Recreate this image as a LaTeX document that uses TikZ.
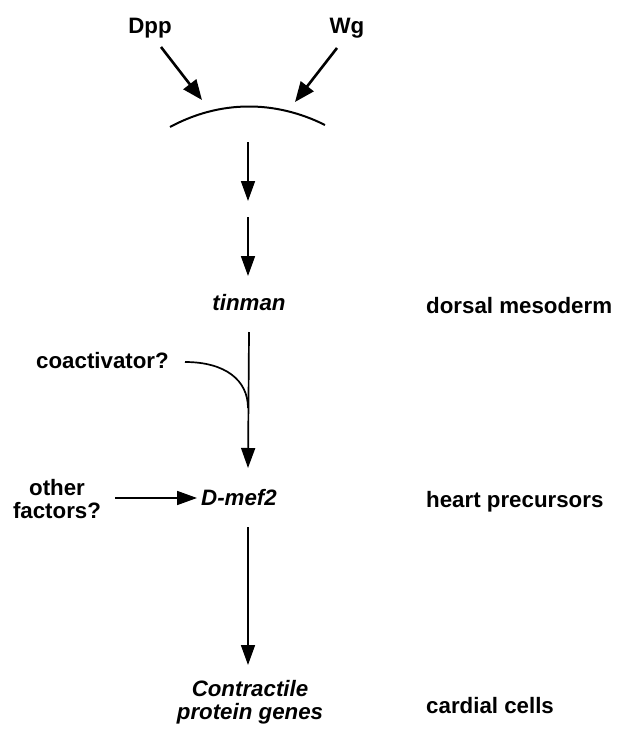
\documentclass[tikz,border=0pt]{standalone}
\usepackage{fontspec}
\setmainfont{Liberation Sans}
\usetikzlibrary{arrows.meta}
\tikzset{
  lbl/.style={inner sep=0pt, font=\fontsize{22.3}{23.5}\selectfont\bfseries},
  gene/.style={inner sep=0pt, font=\fontsize{22.3}{23.5}\selectfont\bfseries\itshape},
  flow/.style={line width=1.7pt, -{Triangle[length=20pt,width=14pt]}},
  sig/.style={line width=2.6pt, -{Triangle[length=20pt,width=16pt]}},
  capline/.style={line width=2pt}
}
\begin{document}
\begin{tikzpicture}[x=1pt,y=-1pt]
\useasboundingbox (0,0) rectangle (624,731);
% nodes
\node[lbl, anchor=base] (dpp) at (150,33) {Dpp};
\node[lbl, anchor=base] (wg) at (347,33) {Wg};
\node[gene, anchor=base] (tin) at (249,310) {tinman};
\node[lbl, anchor=base west] (dm) at (426,313) {dorsal mesoderm};
\node[lbl, anchor=base east] (coa) at (169,368) {coactivator?};
\node[lbl, align=center] (oth) at (57,499) {other\\factors?};
\node[gene, anchor=base] (mef) at (239,505) {D-mef2};
\node[lbl, anchor=base west] (hp) at (426,507) {heart precursors};
\node[gene, align=center] (cpg) at (250,702) {Contractile\\protein genes};
\node[lbl, anchor=base west] (cc) at (426,713) {cardial cells};
% coordinates
\coordinate (dppS) at (161,47);
\coordinate (dppE) at (202,100);
\coordinate (wgS) at (337,48);
\coordinate (wgE) at (295,102);
\coordinate (capL) at (170,127);
\coordinate (capR) at (325,125);
\coordinate (a1S) at (248,142);
\coordinate (a1E) at (248,201);
\coordinate (a2S) at (248,217);
\coordinate (a2E) at (248,276);
\coordinate (join) at (248,408);
\coordinate (coaS) at (185,362);
% connectors
\draw[sig] (dppS) -- (dppE);
\draw[sig] (wgS) -- (wgE);
\draw[capline] (capL) .. controls (220,100) and (275,100) .. (capR);
\draw[flow] (a1S) -- (a1E);
\draw[flow] (a2S) -- (a2E);
\draw[flow] (tin.south |- 0,332) -- (248,468);
\draw[line width=1.7pt] (coaS) .. controls (225,362) and (248,380) .. (join);
\draw[flow] (115,498) -- (197,498);
\draw[flow] (248,527) -- (248,665);
\end{tikzpicture}
\end{document}
